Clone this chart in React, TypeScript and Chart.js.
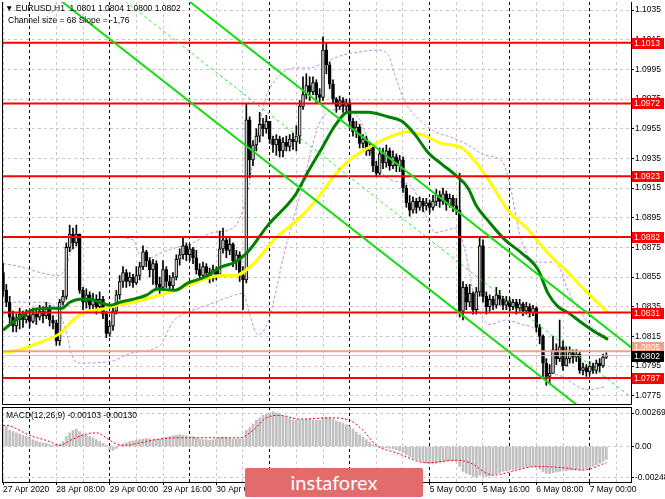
import React, { useEffect, useRef } from "react";
import { Chart, registerables } from "chart.js";

Chart.register(...registerables);

// ---------- DATA (prices in pips: 10846 = 1.0846) ----------
const firstOpen = 10858;
const close = [
  10846,10838,10828,10822,10826,10830,10826,10829,10825,10830,
  10828,10832,10829,10834,10826,10824,10812,10838,10842,10875,
  10884,10878,10884,10846,10838,10843,10836,10840,10835,10840,
  10830,10817,10822,10832,10843,10852,10858,10852,10855,10851,
  10856,10862,10872,10866,10860,10864,10850,10848,10860,10852,
  10849,10855,10867,10870,10876,10870,10874,10868,10860,10856,
  10862,10858,10854,10860,10857,10874,10880,10873,10877,10866,
  10870,10856,10853,10961,10934,10944,10950,10958,10955,10960,
  10948,10944,10948,10940,10946,10943,10948,10946,10950,10970,
  10978,10984,10980,10986,10978,10976,11008,10998,10985,10975,
  10970,10974,10970,10972,10960,10953,10956,10945,10948,10940,
  10943,10930,10925,10938,10932,10940,10930,10936,10930,10934,
  10915,10905,10900,10906,10902,10906,10903,10905,10902,10906,
  10910,10906,10911,10904,10908,10903,10900,10832,10848,10838,
  10844,10833,10845,10876,10842,10835,10840,10836,10843,10840,
  10836,10839,10835,10838,10834,10837,10832,10835,10831,10834,
  10821,10815,10797,10788,10790,10806,10800,10808,10795,10800,
  10804,10801,10803,10792,10794,10791,10795,10792,10797,10795,
  10801,10802,
];
const high = [
  10864,10850,10842,10832,10830,10834,10832,10833,10831,10834,
  10833,10836,10835,10838,10836,10829,10826,10840,10846,10878,
  10890,10888,10890,10884,10848,10847,10845,10844,10843,10845,
  10842,10832,10825,10834,10846,10856,10862,10860,10858,10857,
  10862,10865,10876,10873,10868,10867,10866,10855,10866,10862,
  10856,10858,10870,10874,10882,10878,10877,10875,10873,10864,
  10865,10864,10861,10863,10862,10886,10888,10882,10881,10878,
  10873,10872,10862,10972,10963,10947,10955,10966,10962,10964,
  10958,10950,10951,10950,10949,10950,10951,10952,10957,10974,
  10990,10992,10990,10990,10988,10982,11017,11013,11000,10988,
  10976,10977,10976,10975,10974,10962,10960,10958,10951,10950,
  10946,10944,10933,10942,10942,10944,10942,10940,10938,10937,
  10936,10917,10910,10909,10908,10909,10908,10908,10907,10910,
  10914,10913,10915,10913,10911,10910,10908,10925,10852,10850,
  10850,10845,10848,10882,10880,10845,10843,10842,10848,10846,
  10842,10842,10841,10840,10840,10840,10838,10838,10837,10836,
  10835,10823,10816,10800,10796,10815,10810,10826,10812,10808,
  10808,10806,10806,10805,10797,10796,10798,10797,10799,10800,
  10803,10804,
];
const low = [
  10842,10835,10824,10818,10818,10820,10821,10824,10821,10824,
  10823,10826,10824,10827,10822,10820,10809,10809,10836,10840,
  10872,10874,10876,10844,10833,10834,10832,10833,10830,10834,
  10827,10814,10815,10819,10830,10840,10848,10848,10849,10848,
  10850,10853,10860,10862,10855,10850,10846,10843,10846,10848,
  10845,10846,10853,10863,10867,10866,10866,10864,10857,10852,
  10853,10854,10851,10852,10853,10856,10871,10868,10870,10862,
  10860,10852,10833,10851,10922,10930,10940,10946,10950,10952,
  10945,10939,10937,10936,10936,10940,10940,10941,10940,10945,
  10968,10975,10974,10978,10972,10972,10974,10992,10982,10972,
  10966,10968,10966,10966,10955,10950,10949,10942,10942,10937,
  10937,10926,10923,10924,10928,10929,10927,10928,10926,10926,
  10912,10902,10896,10898,10898,10900,10899,10900,10898,10900,
  10903,10902,10904,10900,10902,10899,10897,10828,10826,10833,
  10835,10830,10830,10842,10838,10830,10832,10833,10834,10836,
  10833,10833,10832,10833,10830,10832,10829,10830,10828,10829,
  10818,10810,10788,10782,10783,10790,10796,10798,10792,10795,
  10797,10797,10798,10790,10789,10788,10789,10790,10790,10791,
  10794,10800,
];

// moving averages & bands: [bar index, pips]
const maGreen: number[][] = [
  [0,10819],[2.1,10823],[5.1,10828],[9,10833],[14.1,10834],[17.7,10834],[20.1,10838],
  [23.1,10840],[26.1,10840],[29.1,10838],[32.1,10836],[35.1,10838],[39,10840],[43.2,10843],
  [46.2,10847],[51.6,10846],[55.5,10851],[60.6,10855],[65.7,10862],[69.6,10865],[73.5,10872],
  [79.5,10890],[87.6,10910],[91.5,10926],[95.7,10942],[99.6,10957],[103.5,10966],[109.5,10966],
  [115.5,10963],[119.7,10960],[123.6,10951],[127.5,10939],[131.7,10931],[135.6,10924],
  [139.5,10915],[142,10903],[145.5,10893],[150.6,10880],[155.7,10871],[160.5,10860],
  [163.5,10844],[166.5,10835],[169.5,10831],[173.7,10824],[177.6,10818],[181.5,10813],
];
const maYellow: number[][] = [
  [0,10804],[5.1,10806],[11.1,10811],[17.1,10817],[21,10826],[25.2,10832],[29.1,10833],
  [34.2,10836],[39,10838],[44.1,10841],[51.6,10846],[58.5,10852],[65.7,10856],[69.6,10856],
  [75.6,10865],[81.6,10881],[87.6,10892],[93.6,10906],[99.6,10924],[103.5,10933],[109.5,10942],
  [115.5,10949],[121.5,10953],[125.7,10951],[131.7,10945],[137.7,10942],[141.6,10933],
  [145.5,10921],[151.5,10900],[157.5,10887],[163.5,10871],[169.5,10858],[175.5,10844],[181.5,10831],
];
const bandUpper: number[][] = [
  [0,10864],[5.1,10862],[11.1,10858],[16.2,10856],[18.6,10860],[22.2,10882],[32.1,10882],
  [39,10880],[41.1,10870],[44.1,10868],[47.1,10871],[52.2,10875],[57,10878],[63,10885],
  [69,10888],[73.2,10910],[75.6,10941],[78.6,10974],[83.1,10991],[87.6,10996],[92.1,10996],
  [96.6,11000],[102.6,11005],[107.7,11007],[112.5,11008],[115.5,11005],[117.6,10991],
  [120.6,10973],[124.5,10962],[129.6,10953],[134.7,10949],[139.5,10944],[144.6,10937],
  [149.7,10933],[152.1,10917],[155.1,10883],[159.6,10865],[165.6,10865],[170.1,10843],
  [176.1,10823],[181.5,10814],
];
const bandLower: number[][] = [
  [0,10838],[11.1,10838],[16.2,10834],[19.2,10816],[20.7,10802],[23.1,10797],[32.1,10798],
  [39,10804],[47.1,10809],[51,10825],[55.2,10831],[61.2,10836],[67.2,10841],[72,10844],
  [74.1,10829],[76.5,10816],[79.5,10825],[84.6,10873],[89.1,10910],[95.7,10962],[101.1,10968],
  [107.1,10961],[112.2,10930],[117,10920],[122.1,10917],[127.2,10895],[129.6,10885],
  [136.2,10888],[138.6,10873],[141.6,10840],[146.1,10823],[150.6,10826],[155.7,10823],
  [160.5,10817],[163.5,10794],[167.7,10788],[175.5,10779],[180.6,10781],
];

// regression channel (endpoints)
const channelUpper: number[][] = [[-10,11156.8],[190,10804.8]];
const channelMiddle: number[][] = [[-10,11123.1],[190,10771.1]];
const channelLower: number[][] = [[-10,11089.4],[190,10737.4]];

const levels = [11013, 10972, 10923, 10882, 10831, 10787];
const askPrice = 10805;
const bidPrice = 10802;
const priceTicks = [10775,10795,10815,10835,10855,10875,10895,10915,10935,10955,10975,10995,11015,11035];

// MACD histogram in 1e-5 units
const macdHist = [
  173,160,130,120,110,100,90,80,70,55,
  45,35,30,25,15,10,10,20,40,80,
  110,130,140,120,100,90,80,70,55,40,
  25,10,-25,-30,-15,10,20,30,40,45,
  50,55,60,65,60,55,55,60,70,75,
  80,85,90,95,90,85,80,80,70,60,
  55,55,50,55,60,70,75,70,65,60,
  60,60,60,130,150,180,210,230,250,260,
  270,280,270,260,245,235,225,215,210,215,
  215,220,220,215,210,210,230,235,230,220,
  205,195,185,175,160,140,115,95,75,55,
  35,15,0,-5,-10,-10,-15,-20,-25,-35,
  -50,-65,-80,-95,-105,-115,-125,-135,-140,-140,
  -135,-130,-125,-120,-115,-115,-120,-160,-200,-215,
  -225,-240,-245,-230,-240,-240,-235,-230,-220,-210,
  -200,-195,-190,-185,-180,-175,-170,-165,-165,-160,
  -165,-180,-200,-215,-220,-210,-205,-200,-195,-195,
  -190,-190,-185,-190,-185,-180,-170,-160,-150,-135,
  -120,-103,
];
const macdSignal: number[][] = [
  [0,170],[2,165],[8,90],[14,40],[17,10],[21,60],[25,100],[28,110],[31,70],[34,20],[37,10],
  [41,30],[47,60],[55,70],[63,70],[71,70],[75,130],[79,230],[83,250],[89,220],[98,230],
  [104,210],[108,130],[112,10],[118,-50],[127,-130],[136,-110],[140,-130],[147,-230],
  [154,-190],[160,-160],[168,-170],[174,-190],[181,-130],
];
const macdTicks = [-0.00248, 0, 0.00269];

const timeLabels = [
  "27 Apr 2020","28 Apr 08:00","29 Apr 00:00","29 Apr 16:00","30 Apr 08:00","1 May 00:00",
  "1 May 16:00","4 May 08:00","5 May 00:00","5 May 16:00","6 May 08:00","7 May 00:00",
];
const daySeparators = [8, 32, 56, 80, 104, 128, 152, 176];

// ---------- helpers ----------
const X_MIN = -0.3;
const X_MAX = 188.4;
const FONT = '"Liberation Sans", Arial, sans-serif';
const pr = (v: number) => v / 10000;
const pts = (arr: number[][]) => arr.map(([x, y]) => ({ x, y: pr(y) }));
const gridBars: number[] = [];
for (let v = 0; v <= 184; v += 8) gridBars.push(v);

const candles = close.map((c, i) => {
  const o = i === 0 ? firstOpen : close[i - 1];
  return { i, o, c, h: Math.max(high[i], o, c), l: Math.min(low[i], o, c) };
});

const lineDs = (label: string, data: any[], color: string, width: number, order: number, dash: number[] = [], smooth = false) => ({
  type: "line" as const,
  label,
  data,
  borderColor: color,
  borderWidth: width,
  borderDash: dash,
  pointRadius: 0,
  fill: false,
  order,
  cubicInterpolationMode: smooth ? ("monotone" as const) : ("default" as const),
});

const gridColor = (ctx: any) => (daySeparators.includes(ctx.tick?.value) ? "#000000" : "#c8c8c8");

const noPad = (s: any) => {
  s.paddingTop = 0;
  s.paddingBottom = 0;
  s.paddingLeft = 0;
  s.paddingRight = 0;
};

function labelBox(ctx: CanvasRenderingContext2D, x: number, y: number, text: string, bg: string, fg: string) {
  ctx.fillStyle = bg;
  ctx.fillRect(x, Math.round(y) - 5, 32, 11);
  ctx.fillStyle = fg;
  ctx.font = `8.5px ${FONT}`;
  ctx.textBaseline = "middle";
  ctx.textAlign = "left";
  ctx.fillText(text, x + 2, Math.round(y) + 0.5);
}

function mainConfig(): any {
  const framePlugin = {
    id: "mainFrame",
    afterDraw(chart: any) {
      const { ctx, chartArea } = chart;
      const { left, right, top, bottom } = chartArea;
      ctx.save();
      ctx.strokeStyle = "#000";
      ctx.lineWidth = 1;
      ctx.setLineDash([]);
      ctx.beginPath();
      ctx.moveTo(left + 0.5, top);
      ctx.lineTo(left + 0.5, bottom + 0.5);
      ctx.lineTo(right + 0.5, bottom + 0.5);
      ctx.lineTo(right + 0.5, top);
      ctx.stroke();
      const ys = chart.scales.y;
      levels.forEach((lv) => labelBox(ctx, right + 1, ys.getPixelForValue(pr(lv)), pr(lv).toFixed(4), "#ff0000", "#ffffff"));
      labelBox(ctx, right + 1, ys.getPixelForValue(pr(askPrice)) - 4, pr(askPrice).toFixed(4), "#f7a07f", "#ffffff");
      labelBox(ctx, right + 1, ys.getPixelForValue(pr(bidPrice)), pr(bidPrice).toFixed(4), "#000000", "#ffffff");
      ctx.restore();
    },
  };

  const datasets: any[] = [
    lineDs("bandUpper", pts(bandUpper), "#c58be8", 1, 20, [3, 2], true),
    lineDs("bandLower", pts(bandLower), "#c58be8", 1, 20, [3, 2], true),
    {
      type: "bar",
      label: "wicks",
      data: candles.map((b) => ({ x: b.i, y: [pr(b.l), pr(b.h)] })),
      backgroundColor: "#000000",
      barThickness: 1,
      grouped: false,
      order: 19,
    },
    {
      type: "bar",
      label: "bodies",
      data: candles.map((b) => ({ x: b.i, y: [pr(b.o), pr(b.c)] })),
      backgroundColor: candles.map((b) => (b.c >= b.o ? "#c8c8c8" : "#000000")),
      borderColor: "#000000",
      borderWidth: 1,
      borderSkipped: false,
      barThickness: 3,
      minBarLength: 1,
      grouped: false,
      order: 18,
    },
    lineDs("maYellow", pts(maYellow), "#ffff00", 3, 17, [], true),
    lineDs("maGreen", pts(maGreen), "#008000", 3, 16, [], true),
    lineDs("ask", [{ x: X_MIN, y: pr(askPrice) }, { x: X_MAX, y: pr(askPrice) }], "#f7a07f", 2, 15),
    lineDs("bid", [{ x: X_MIN, y: pr(bidPrice) }, { x: X_MAX, y: pr(bidPrice) }], "#c0c0c0", 1, 15),
    ...levels.map((lv) => lineDs("level" + lv, [{ x: X_MIN, y: pr(lv) }, { x: X_MAX, y: pr(lv) }], "#ff0000", 2, 14)),
    lineDs("chMid", pts(channelMiddle), "#22ee22", 1, 13, [3, 3]),
    lineDs("chUp", pts(channelUpper), "#11dd11", 2, 12),
    lineDs("chLow", pts(channelLower), "#11dd11", 2, 12),
  ];

  return {
    type: "bar",
    data: { datasets },
    plugins: [framePlugin],
    options: {
      animation: false,
      responsive: false,
      maintainAspectRatio: false,
      events: [],
      layout: { padding: { left: 2, top: 2, right: 0, bottom: 2 } },
      plugins: { legend: { display: false }, tooltip: { enabled: false } },
      scales: {
        x: {
          type: "linear",
          min: X_MIN,
          max: X_MAX,
          offset: false,
          display: true,
          afterBuildTicks: (s: any) => {
            s.ticks = gridBars.map((v) => ({ value: v }));
          },
          afterFit: (s: any) => {
            s.height = 0;
            noPad(s);
          },
          ticks: { display: false },
          grid: { offset: false, drawTicks: false, color: gridColor, lineWidth: 1 },
          border: { display: false, dash: [3, 3] },
        },
        y: {
          type: "linear",
          position: "right",
          min: 1.07694,
          max: 1.10404,
          afterFit: (s: any) => {
            s.width = 34;
            noPad(s);
          },
          afterBuildTicks: (s: any) => {
            s.ticks = priceTicks.map((v) => ({ value: pr(v) }));
          },
          ticks: {
            callback: (v: any) => Number(v).toFixed(4),
            font: { family: FONT, size: 8.5 },
            color: "#000",
            padding: 1,
            autoSkip: false,
          },
          grid: { color: "#c8c8c8", tickColor: "#000", tickLength: 3, lineWidth: 1 },
          border: { display: false, dash: [3, 3] },
        },
      },
    },
  };
}

function macdConfig(): any {
  const framePlugin = {
    id: "macdFrame",
    afterDraw(chart: any) {
      const { ctx, chartArea } = chart;
      const { left, right, top, bottom } = chartArea;
      ctx.save();
      ctx.strokeStyle = "#000";
      ctx.lineWidth = 1;
      ctx.setLineDash([]);
      ctx.strokeRect(left + 0.5, top + 0.5, right - left, bottom - top);
      ctx.restore();
    },
  };
  return {
    type: "bar",
    data: {
      datasets: [
        {
          type: "bar",
          label: "MACD",
          data: macdHist.map((v, i) => ({ x: i, y: v / 100000 })),
          backgroundColor: "#c0c0c0",
          barThickness: 2,
          grouped: false,
          order: 2,
        },
        {
          type: "line",
          label: "Signal",
          data: macdSignal.map(([x, y]) => ({ x, y: y / 100000 })),
          borderColor: "#ff0000",
          borderWidth: 1,
          borderDash: [2, 2],
          pointRadius: 0,
          cubicInterpolationMode: "monotone",
          order: 1,
        },
      ],
    },
    plugins: [framePlugin],
    options: {
      animation: false,
      responsive: false,
      maintainAspectRatio: false,
      events: [],
      layout: { padding: { left: 2, top: 1, right: 0, bottom: 0 } },
      plugins: { legend: { display: false }, tooltip: { enabled: false } },
      scales: {
        x: {
          type: "linear",
          min: X_MIN,
          max: X_MAX,
          offset: false,
          afterBuildTicks: (s: any) => {
            s.ticks = gridBars.map((v) => ({ value: v }));
          },
          afterFit: (s: any) => {
            s.height = 17;
            noPad(s);
          },
          ticks: {
            autoSkip: false,
            maxRotation: 0,
            minRotation: 0,
            align: "start",
            padding: 0,
            color: "#000",
            font: { family: FONT, size: 8.5 },
            callback: (v: any) => {
              const k = Number(v) / 16;
              return Number.isInteger(k) && k < timeLabels.length ? timeLabels[k] : "";
            },
          },
          grid: {
            offset: false,
            color: gridColor,
            tickColor: (ctx: any) => (Number(ctx.tick?.value) % 16 === 0 ? "#000" : "rgba(0,0,0,0)"),
            tickLength: 3,
            lineWidth: 1,
          },
          border: { display: false, dash: [3, 3] },
        },
        y: {
          type: "linear",
          position: "right",
          min: -0.00285,
          max: 0.003172,
          afterFit: (s: any) => {
            s.width = 34;
            noPad(s);
          },
          afterBuildTicks: (s: any) => {
            s.ticks = macdTicks.map((v) => ({ value: v }));
          },
          ticks: {
            callback: (v: any) => (Number(v) === 0 ? "0.00" : Number(v).toFixed(5)),
            font: { family: FONT, size: 8.5 },
            color: "#000",
            padding: 1,
            autoSkip: false,
          },
          grid: { color: "#c8c8c8", tickColor: "#000", tickLength: 3 },
          border: { display: false, dash: [3, 3] },
        },
      },
    },
  };
}

export default function App() {
  const mainRef = useRef<HTMLCanvasElement>(null);
  const macdRef = useRef<HTMLCanvasElement>(null);

  useEffect(() => {
    Chart.defaults.font.family = FONT;
    const c1 = new Chart(mainRef.current as HTMLCanvasElement, mainConfig());
    const c2 = new Chart(macdRef.current as HTMLCanvasElement, macdConfig());
    return () => {
      c1.destroy();
      c2.destroy();
    };
  }, []);

  const txt: React.CSSProperties = {
    position: "absolute",
    fontFamily: FONT,
    fontSize: 8.5,
    lineHeight: "10px",
    color: "#000",
    whiteSpace: "pre",
  };

  return (
    <div style={{ position: "absolute", left: 0, top: 0, width: 665, height: 499, background: "#fff", overflow: "hidden" }}>
      <canvas ref={mainRef} width={665} height={406} style={{ position: "absolute", left: 0, top: 0, width: 665, height: 406 }} />
      <canvas ref={macdRef} width={665} height={93} style={{ position: "absolute", left: 0, top: 406, width: 665, height: 93 }} />
      <div style={{ ...txt, left: 5, top: 3 }}>{"▼ EURUSD,H1  1.0801 1.0804 1.0800 1.0802"}</div>
      <div style={{ ...txt, left: 8, top: 15 }}>{"Channel size = 68 Slope = -1,76"}</div>
      <div style={{ ...txt, left: 6, top: 410 }}>{"MACD(12,26,9) -0.00103 -0.00130"}</div>
      <div
        style={{
          position: "absolute",
          left: 245,
          top: 468,
          width: 178,
          height: 29,
          background: "#e36b6b",
          borderRadius: 2,
          color: "#fff",
          fontFamily: "Lato, 'Open Sans', sans-serif",
          fontSize: 20,
          lineHeight: "28px",
          textAlign: "center",
        }}
      >
        instaforex
      </div>
    </div>
  );
}
